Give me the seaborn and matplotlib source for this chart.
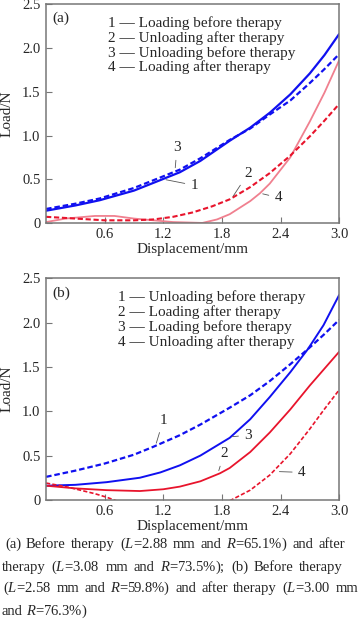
import numpy as np
import pandas as pd
import seaborn as sns
import matplotlib.pyplot as plt

# panel (a) curves
a1_x = [0, 0.3, 0.55, 0.9, 1.17, 1.37, 1.58, 1.88, 2.09, 2.29, 2.5, 2.7, 2.85, 3.0]
a1_y = [0.14, 0.2, 0.26, 0.37, 0.49, 0.58, 0.71, 0.94, 1.09, 1.26, 1.47, 1.71, 1.92, 2.16]
a3_x = [0, 0.3, 0.55, 0.9, 1.17, 1.37, 1.58, 1.88, 2.09, 2.29, 2.5, 2.7, 2.85, 3.0]
a3_y = [0.16, 0.22, 0.28, 0.40, 0.52, 0.61, 0.74, 0.95, 1.08, 1.24, 1.40, 1.60, 1.76, 1.93]
a2_x = [0, 0.3, 0.6, 0.9, 1.1, 1.3, 1.5, 1.7, 1.88, 2.09, 2.29, 2.5, 2.7, 2.85, 3.0]
a2_y = [0.07, 0.05, 0.03, 0.03, 0.04, 0.07, 0.12, 0.19, 0.27, 0.41, 0.57, 0.77, 0.99, 1.17, 1.36]
a4_x = [0, 0.2, 0.5, 0.7, 0.9, 1.1, 1.3, 1.6, 1.75, 1.88, 2.09, 2.19, 2.29, 2.5, 2.7, 2.85, 3.0]
a4_y = [0.01, 0.05, 0.08, 0.08, 0.05, 0.03, 0.01, 0.0, 0.04, 0.1, 0.25, 0.34, 0.45, 0.75, 1.16, 1.49, 1.86]

# panel (b) curves
b1_x = [0, 0.3, 0.6, 0.9, 1.1, 1.37, 1.58, 1.88, 2.09, 2.29, 2.5, 2.68, 2.84, 3.0]
b1_y = [0.26, 0.33, 0.41, 0.51, 0.60, 0.73, 0.85, 1.04, 1.18, 1.34, 1.53, 1.70, 1.86, 2.03]
b3_x = [0, 0.3, 0.62, 0.96, 1.17, 1.37, 1.58, 1.88, 2.09, 2.29, 2.5, 2.68, 2.84, 3.0]
b3_y = [0.16, 0.17, 0.2, 0.25, 0.31, 0.39, 0.50, 0.70, 0.91, 1.16, 1.44, 1.70, 1.97, 2.31]
b2_x = [0, 0.3, 0.62, 0.96, 1.2, 1.37, 1.58, 1.78, 1.88, 2.09, 2.29, 2.5, 2.7, 2.85, 3.0]
b2_y = [0.16, 0.13, 0.11, 0.10, 0.12, 0.15, 0.21, 0.30, 0.36, 0.54, 0.76, 1.02, 1.29, 1.48, 1.67]
b4a_x = [0, 0.2, 0.35, 0.5, 0.62, 0.72]
b4a_y = [0.19, 0.15, 0.11, 0.07, 0.03, -0.01]
b4b_x = [1.88, 2.09, 2.29, 2.5, 2.7, 2.84, 3.0]
b4b_y = [-0.01, 0.11, 0.28, 0.52, 0.80, 1.01, 1.24]

legend_a = ["1 \u2014 Loading before therapy", "2 \u2014 Unloading after therapy",
            "3 \u2014 Unloading before therapy", "4 \u2014 Loading after therapy"]
legend_b = ["1 \u2014 Unloading before therapy", "2 \u2014 Loading after therapy",
            "3 \u2014 Loading before therapy", "4 \u2014 Unloading after therapy"]
xticks = [0.6, 1.2, 1.8, 2.4, 3.0]
yticks = [0, 0.5, 1.0, 1.5, 2.0, 2.5]
ytick_labels = ["0", "0.5", "1.0", "1.5", "2.0", "2.5"]

sns.set_style("ticks")
plt.rcParams['font.family'] = ['Liberation Serif', 'DejaVu Serif']
plt.rcParams['mathtext.fontset'] = 'custom'
plt.rcParams['mathtext.rm'] = 'Liberation Serif'
plt.rcParams['mathtext.it'] = 'Liberation Serif:italic'

BLUE = "#1010f0"
RED = "#e8142c"
PINK = "#f0808f"
GRAY = "#777777"

fig = plt.figure(figsize=(3.6, 6.21), dpi=100)
ax_a = fig.add_axes([0.128, 0.641, 0.814, 0.352])
ax_b = fig.add_axes([0.128, 0.195, 0.814, 0.357])


def curve(ax, x, y, color, ls, lw):
    sns.lineplot(x=x, y=y, ax=ax, color=color, lw=lw, estimator=None, sort=False,
                 linestyle=ls)


dash = (0, (2.5, 1.3))
curve(ax_a, a4_x, a4_y, PINK, '-', 1.3)
curve(ax_a, a2_x, a2_y, RED, dash, 1.5)
curve(ax_a, a1_x, a1_y, BLUE, '-', 1.6)
curve(ax_a, a3_x, a3_y, BLUE, dash, 1.6)

curve(ax_b, b1_x, b1_y, BLUE, dash, 1.6)
curve(ax_b, b3_x, b3_y, BLUE, '-', 1.4)
curve(ax_b, b2_x, b2_y, RED, '-', 1.3)
curve(ax_b, b4a_x, b4a_y, RED, dash, 1.2)
curve(ax_b, b4b_x, b4b_y, RED, dash, 1.2)

for ax in (ax_a, ax_b):
    ax.set_xlim(0, 3.0)
    ax.set_ylim(0, 2.5)
    ax.set_xticks(xticks)
    ax.set_xticklabels([f"{t:.1f}" for t in xticks])
    ax.set_yticks(yticks)
    ax.set_yticklabels(ytick_labels)
    ax.tick_params(direction='in', length=4, width=0.8, color=GRAY, labelsize=10.5,
                   pad=4, top=False, right=False)
    for s in ax.spines.values():
        s.set_color(GRAY)
        s.set_linewidth(1.1)
    ax.set_xlabel("Displacement/mm", fontsize=11, labelpad=1)
    ax.set_ylabel("Load/N", fontsize=11, labelpad=6)

# legends as text
for ax, rows, x0, lab in ((ax_a, legend_a, 0.212, "(a)"), (ax_b, legend_b, 0.246, "(b)")):
    for i, r in enumerate(rows):
        ax.text(x0, 0.897 - i * 0.068, r, transform=ax.transAxes, fontsize=11,
                va='baseline', ha='left')
    ax.text(0.02, 0.918, lab, transform=ax.transAxes, fontsize=11, va='baseline')

leader = dict(arrowstyle='-', color='#555555', lw=0.6)
ann = lambda ax, t, xy, xt: ax.annotate(t, xy=xy, xytext=xt, fontsize=11,
                                       ha='center', va='center', arrowprops=leader)
ann(ax_a, "3", (1.32, 0.6), (1.34, 0.86))
ann(ax_a, "1", (1.2, 0.5), (1.52, 0.43))
ann(ax_a, "2", (1.9, 0.28), (2.07, 0.57))
ann(ax_a, "4", (2.19, 0.34), (2.38, 0.29))
ann(ax_b, "1", (1.12, 0.61), (1.2, 0.9))
ann(ax_b, "3", (1.88, 0.71), (2.07, 0.73))
ann(ax_b, "2", (1.76, 0.3), (1.82, 0.52))
ann(ax_b, "4", (2.36, 0.32), (2.62, 0.31))

# caption, justified lines
caption = [
    (548, "(a) Before therapy ($L$=2.88 mm and $R$=65.1%) and after", 5, 345),
    (571, "therapy ($L$=3.08 mm and $R$=73.5%); (b) Before therapy", 2, 343),
    (592, "($L$=2.58 mm and $R$=59.8%) and after therapy  ($L$=3.00 mm", 3, 358),
    (615, "and $R$=76.3%)", 2, None),
]
W, H = 360.0, 621.0
renderer = fig.canvas.get_renderer()
for ypx, line, x0, x1 in caption:
    words = line.split()
    texts = [fig.text(0, 1 - ypx / H, w, fontsize=10.5, va='baseline', ha='left')
             for w in words]
    widths = [t.get_window_extent(renderer).width for t in texts]
    if x1 is None:
        sp = 3.6
    else:
        sp = (x1 - x0 - sum(widths)) / (len(words) - 1)
    x = x0
    for t, w in zip(texts, widths):
        t.set_x(x / W)
        x += w + sp

fig.savefig("out.png", dpi=100)
